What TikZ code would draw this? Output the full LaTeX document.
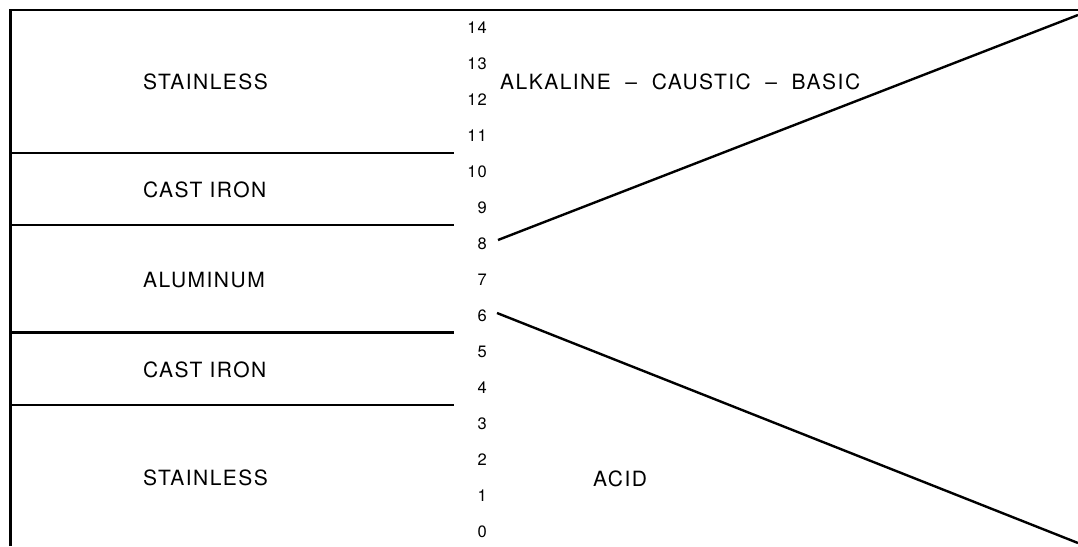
\documentclass[tikz,border=0pt]{standalone}
\usepackage{fontspec}
\setmainfont{TeX Gyre Heros}[LetterSpace=7]
\usetikzlibrary{positioning}
\tikzset{%
metal/.style={anchor=west,inner sep=0pt,font=\fontsize{21}{24}\selectfont},
phnum/.style={anchor=east,inner sep=0pt,font=\fontsize{16.5}{18}\selectfont},
frame/.style={line width=2.4pt},
}

\begin{document}
\begin{tikzpicture}[x=1pt,y=-1pt]
        \useasboundingbox (0,0) rectangle (1078,546);
        % outer frame
        \draw[frame] (10.5,546) -- (10.5,9.7) -- (1078,9.7);
        % metal bands
        \foreach \y/\n in {152.7/b1,225/b2,332.3/b3,405/b4}
            \draw[frame] (10.5,\y) -- (454,\y);
        \node[metal] (st1) at (143,82) {STAINLESS};
        \node[metal] (ci1) at (143,190) {CAST IRON};
        \node[metal] (al) at (143,280) {ALUMINUM};
        \node[metal] (ci2) at (143,370) {CAST IRON};
        \node[metal] (st2) at (143,478) {STAINLESS};
        % pH scale
        \foreach \n in {0,...,14}
            \node[phnum] (ph\n) at (487,532-36*\n) {\n};
        % ranges
        \coordinate (alkA) at (498,240);
        \coordinate (alkB) at (1078,15);
        \coordinate (acA) at (497,313);
        \coordinate (acB) at (1078,543);
        \draw[frame] (alkA) -- (alkB);
        \draw[frame] (acA) -- (acB);
        \node[metal] (alk) at (500,82) {ALKALINE\ \ --\ \ CAUSTIC\ \ --\ \ BASIC};
        \node[metal] (acid) at (593,479) {ACID};
\end{tikzpicture}
\end{document}
